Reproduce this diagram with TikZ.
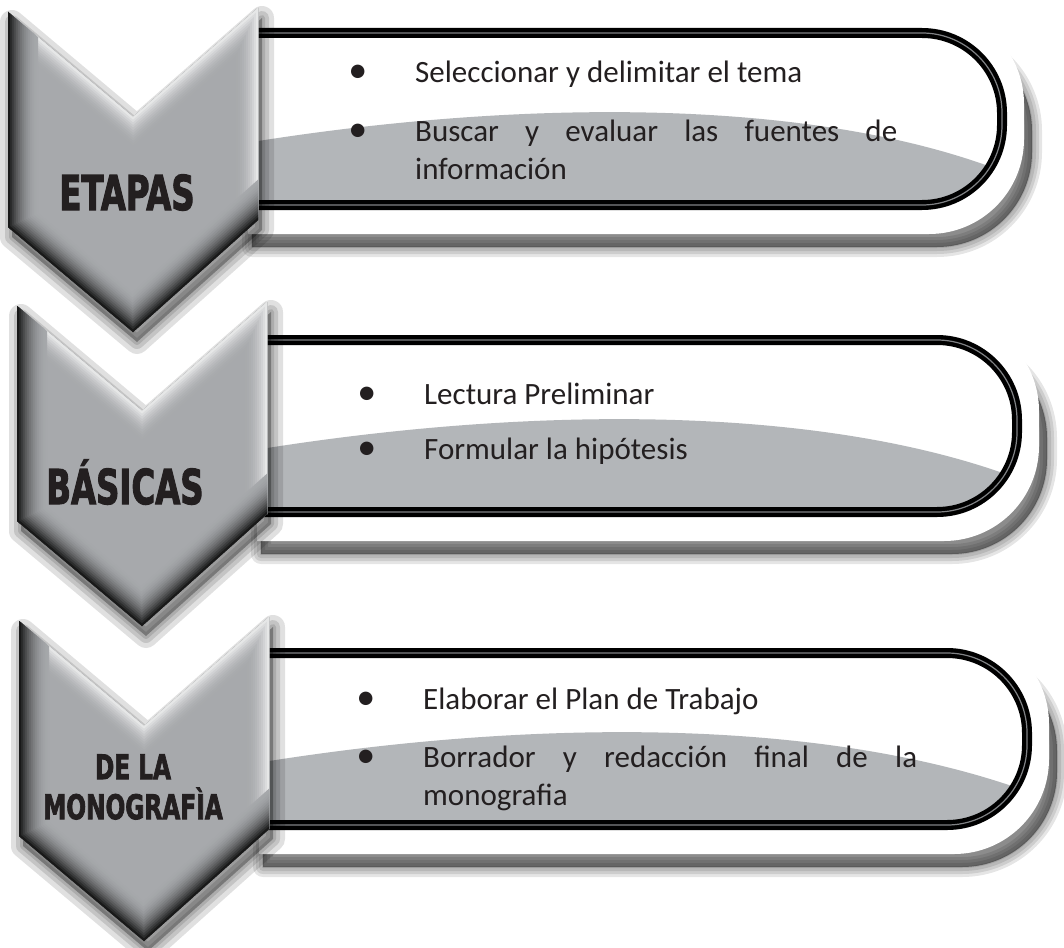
\documentclass[tikz,border=0pt]{standalone}
\usepackage{fontspec}
\usepackage{graphicx}
\setmainfont{Carlito}
\newfontfamily\labfont{DejaVu Sans Condensed Bold}[FakeBold=2.5]
\usetikzlibrary{calc,positioning}
\setlength{\parindent}{0pt}

\definecolor{chevgray}{HTML}{A7A9AC}
\definecolor{bandgray}{HTML}{B3B6B9}
\definecolor{inkblack}{HTML}{231F20}
\definecolor{rimgray}{HTML}{808285}

% viñeta colgante
\newcommand\bul{\leavevmode\llap{{\fontsize{38}{38}\selectfont\textbullet}\hspace{48pt}}}
% caja con el lado derecho redondeado: izq, arriba, der, abajo, radio
\newcommand\capbox[5]{(#1,#2) -- (#3-#5,#2) arc[start angle=90,end angle=0,radius=#5pt] -- (#3,#4-#5) arc[start angle=0,end angle=-90,radius=#5pt] -- (#1,#4) -- cycle}
% flecha hacia abajo
\newcommand\chevshape{(0,0) -- (125,105) -- (250,-4) -- (250,208) -- (125,320) -- (0,215) -- cycle}

\begin{document}
\begin{tikzpicture}[x=1pt, y=-1pt,
    labtext/.style={font=\labfont\fontsize{48}{50}\selectfont, text=inkblack, align=center, inner sep=0pt},
    itemtext/.style={font=\fontsize{31}{38}\selectfont, text=inkblack, align=justify, inner sep=0pt, anchor=north west},
    rim/.style={line width=10pt, black},
  ]
  \useasboundingbox[fill=white] (0,0) rectangle (1064,947);

  % cajas blancas con sombra, franja gris y borde negro
  \foreach \L/\bt/\br in {8/33/1002, 17/340/1017, 19/653/1027}{
    \pgfmathsetmacro\bl{\L+244}
    \pgfmathsetmacro\bb{\bt+172}
    % sombra
    \foreach \w in {20,14,8,2}
      \draw[black, opacity=.1, line width=\w pt, line join=round, shift={(8,13)}] \capbox{\L+236}{\bt-10}{\br+22}{\bb+29}{95};
    \fill[black, opacity=.45, shift={(8,13)}] \capbox{\L+236}{\bt-10}{\br+22}{\bb+29}{95};
    \fill[white] \capbox{\L+240}{\bt-24}{\br+22}{\bb+29}{95};
    % franja gris
    \begin{scope}
      \clip \capbox{\bl}{\bt}{\br}{\bb}{80};
      \fill[bandgray] (\bl,\bt+109) .. controls (\bl+263,\bt+67) and (\bl+563,\bt+62) .. (\br+10,\bt+142) -- (\br+10,\bb+5) -- (\bl,\bb+5) -- cycle;
    \end{scope}
    % borde
    \draw[rim] \capbox{\bl}{\bt}{\br}{\bb}{80};
    \draw[rimgray, line width=1.2pt] \capbox{\bl}{\bt}{\br}{\bb}{80};
  }

  % flechas con relieve
  \foreach \L/\T in {8/12, 17/306, 19/621}{
    \begin{scope}[shift={(\L,\T)}]
      \foreach \w in {24,14,6}
        \draw[black, opacity=.12, line width=\w pt, line join=round, shift={(4,10)}] \chevshape;
      \fill[black, opacity=.3, shift={(4,10)}] \chevshape;
      \begin{scope}
        \clip \chevshape;
        \fill[chevgray] (-10,-10) rectangle (260,330);
        % bordes claros
        \foreach \d in {22,20,...,2}{
          \pgfmathsetmacro\p{85*(1-\d/24)^2}
          \draw[white!\p!chevgray, line width=2*\d pt] (-60,-50) -- (125,105) -- (250,-4) -- (250,400);
        }
        % bordes oscuros
        \foreach \d in {30,28,...,2}{
          \pgfmathsetmacro\p{97*(1-\d/32)^2}
          \draw[black!\p!chevgray, line width=2*\d pt] (0,-100) -- (0,215) -- (125,320) -- (250,208) -- (310,154);
        }
      \end{scope}
    \end{scope}
  }

  % etiquetas
  \node[labtext, anchor=base] (etapas) at (127,210) {\scalebox{.75}[1]{ETAPAS}};
  \node[labtext, anchor=base] (basicas) at (125,504) {\scalebox{.75}[1]{BÁSICAS}};
  \node[labtext, font=\labfont\fontsize{34}{40}\selectfont] (monografia) at (133,787)
    {\scalebox{.76}[1]{DE LA}\\\scalebox{.76}[1]{MONOGRAFÌA}};

  % textos
  \node[itemtext, text width=482pt] (etapasitems) at (415,61)
    {\bul Seleccionar y delimitar el tema\par\vspace{21pt}\bul Buscar y evaluar las fuentes de\linebreak información};
  \node[itemtext, text width=482pt] (basicasitems) at (424,383)
    {\bul Lectura Preliminar\par\vspace{17pt}\bul Formular la hipótesis};
  \node[itemtext, text width=494pt] (monografiaitems) at (423,688)
    {\bul Elaborar el Plan de Trabajo\par\vspace{20pt}\bul Borrador y redacción final de la\linebreak monografia};
\end{tikzpicture}
\end{document}
